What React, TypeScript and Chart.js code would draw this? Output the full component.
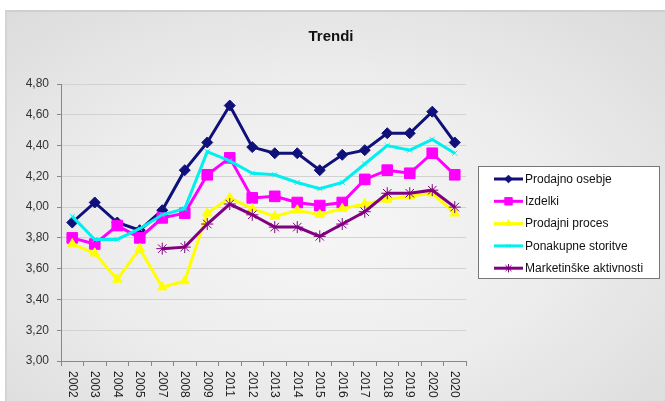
import React, { useEffect, useRef } from 'react';
import { Chart, registerables } from 'chart.js';
import { drawPoint } from 'chart.js/helpers';

Chart.register(...registerables);

const title = 'Trendi';
const categories = ['2002', '2003', '2004', '2005', '2007', '2008', '2009', '2011', '2012', '2013', '2014', '2015', '2016', '2017', '2018', '2019', '2020', '2020'];
const seriesNames = ['Prodajno osebje', 'Izdelki', 'Prodajni proces', 'Ponakupne storitve', 'Marketinške aktivnosti'];
const prodajnoOsebje = [3.90, 4.03, 3.90, 3.85, 3.98, 4.24, 4.42, 4.66, 4.39, 4.35, 4.35, 4.24, 4.34, 4.37, 4.48, 4.48, 4.62, 4.42];
const izdelki = [3.80, 3.76, 3.88, 3.80, 3.93, 3.96, 4.21, 4.32, 4.06, 4.07, 4.03, 4.01, 4.03, 4.18, 4.24, 4.22, 4.35, 4.21];
const prodajniProces = [3.76, 3.70, 3.53, 3.73, 3.48, 3.52, 3.96, 4.06, 3.99, 3.94, 3.98, 3.95, 3.99, 4.02, 4.05, 4.07, 4.09, 3.96];
const ponakupneStoritve = [3.94, 3.79, 3.79, 3.86, 3.95, 3.99, 4.36, 4.30, 4.22, 4.21, 4.16, 4.12, 4.16, 4.28, 4.40, 4.37, 4.44, 4.35];
const marketinskeAktivnosti = [null, null, null, null, 3.73, 3.74, 3.89, 4.02, 3.95, 3.87, 3.87, 3.81, 3.89, 3.97, 4.09, 4.09, 4.11, 4.00];
const yMin = 3.0;
const yMax = 4.8;
const yStep = 0.2;

const seriesData = [prodajnoOsebje, izdelki, prodajniProces, ponakupneStoritve, marketinskeAktivnosti];
const styles = [
  { color: '#10107a', point: 'rectRot', radius: 5.5, pbw: 1 },
  { color: '#ff00ff', point: 'rect', radius: 7.5, pbw: 1 },
  { color: '#ffff00', point: 'triangle', radius: 5.5, pbw: 1 },
  { color: '#00f0f0', point: 'crossRot', radius: 3.5, pbw: 1 },
  { color: '#800080', point: 'star', radius: 6, pbw: 1 },
];

const FONT = '"Liberation Sans", Arial, sans-serif';

const overlayPlugin = {
  id: 'overlay',
  afterDraw(chart: any) {
    const ctx = chart.ctx;
    const xs = chart.scales.x;
    ctx.save();
    // title
    ctx.font = `bold 15px ${FONT}`;
    ctx.fillStyle = '#111';
    ctx.textAlign = 'center';
    ctx.textBaseline = 'middle';
    ctx.fillText(title, 331, 37);
    // rotated x labels
    ctx.font = `12px ${FONT}`;
    ctx.fillStyle = '#222';
    ctx.textAlign = 'left';
    ctx.textBaseline = 'middle';
    categories.forEach((lab, i) => {
      const x = xs.getPixelForValue(i);
      ctx.save();
      ctx.translate(x, xs.top + 10);
      ctx.rotate(Math.PI / 2);
      ctx.fillText(lab, 0, 0);
      ctx.restore();
    });
    // legend
    const lx = 478.5, ly = 166.5, lw = 181, lh = 112;
    ctx.fillStyle = '#ffffff';
    ctx.fillRect(lx, ly, lw, lh);
    ctx.strokeStyle = '#777';
    ctx.lineWidth = 1;
    ctx.strokeRect(lx, ly, lw, lh);
    seriesNames.forEach((name, i) => {
      const y = 179 + i * 22.3;
      const st = styles[i];
      ctx.strokeStyle = st.color;
      ctx.lineWidth = 3;
      ctx.beginPath();
      ctx.moveTo(494, y);
      ctx.lineTo(523, y);
      ctx.stroke();
      ctx.fillStyle = st.color;
      ctx.lineWidth = st.pbw;
      drawPoint(ctx, { pointStyle: st.point, radius: st.radius * 0.7, borderWidth: st.pbw, rotation: 0 } as any, 508.5, y);
      ctx.fillStyle = '#111';
      ctx.font = `12px ${FONT}`;
      ctx.textAlign = 'left';
      ctx.textBaseline = 'middle';
      ctx.fillText(name, 525, y + 0.5);
    });
    ctx.restore();
  },
};

export default function App() {
  const ref = useRef<HTMLCanvasElement | null>(null);
  useEffect(() => {
    if (!ref.current) return;
    const chart = new Chart(ref.current, {
      type: 'line',
      data: {
        labels: categories,
        datasets: seriesData.map((d, i) => ({
          label: seriesNames[i],
          data: d,
          borderColor: styles[i].color,
          backgroundColor: styles[i].color,
          pointBackgroundColor: styles[i].color,
          pointBorderColor: styles[i].color,
          pointStyle: styles[i].point as any,
          pointRadius: styles[i].radius,
          pointBorderWidth: styles[i].pbw,
          borderWidth: 3,
          tension: 0,
          fill: false,
          spanGaps: false,
          order: 5 - i,
        })),
      },
      options: {
        responsive: false,
        animation: false,
        layout: { padding: { left: 0, right: 199, top: 84, bottom: 0 } },
        plugins: {
          legend: { display: false },
          title: { display: false },
          tooltip: { enabled: false },
        },
        scales: {
          x: {
            type: 'category',
            offset: true,
            grid: { offset: true, drawOnChartArea: false, drawTicks: true, tickLength: 5, tickColor: '#888' },
            border: { display: true, color: '#888', width: 1 },
            ticks: { display: false },
            afterFit: (s: any) => { s.height = 69; },
          },
          y: {
            min: yMin,
            max: yMax,
            grid: { color: '#d2d2d2', tickLength: 4, tickColor: '#888' },
            border: { display: true, color: '#888', width: 1 },
            ticks: {
              stepSize: yStep,
              padding: 8,
              color: '#333',
              font: { family: FONT, size: 12 },
              callback: (v: any) => Number(v).toFixed(2).replace('.', ','),
            },
            afterFit: (s: any) => { s.width = 61; },
          },
        },
      },
      plugins: [overlayPlugin],
    });
    return () => chart.destroy();
  }, []);

  return (
    <div style={{ position: 'fixed', left: 0, top: 0, width: 665, height: 401, overflow: 'hidden', background: '#ffffff' }}>
      <div
        style={{
          position: 'absolute',
          left: 5,
          top: 10,
          right: 0,
          bottom: 0,
          borderTop: '2px solid #cfcfcf',
          borderLeft: '2px solid #d4d4d4',
          background: 'radial-gradient(ellipse 70% 75% at 48% 55%, #f6f6f6 0%, #ededed 50%, #dcdcdc 100%)',
        }}
      />
      <canvas ref={ref} width={665} height={430} style={{ position: 'absolute', left: 0, top: 0, width: 665, height: 430 }} />
    </div>
  );
}
